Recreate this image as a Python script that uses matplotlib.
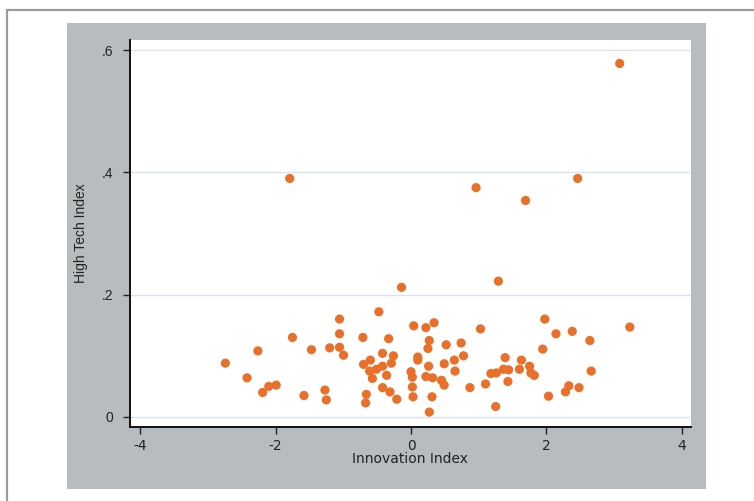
import numpy as np
import matplotlib
matplotlib.use("Agg")
import matplotlib.pyplot as plt
from matplotlib.patches import Rectangle

plt.rcParams["axes.unicode_minus"] = False

# Data
innovation = [
    3.08, 0.96, 1.69, 2.46, 1.29, -1.79, -0.14,
    -2.74, -2.26, -1.75, -2.42, -2.19, -2.10, -1.99, -1.58, -1.47,
    -1.27, -1.25, -1.20,
    -1.055, -1.055, -1.055, -0.996, -0.475, -0.71, -0.33, -0.70, -0.60,
    -0.42, -0.26, -0.29, -0.42, -0.51, -0.61, -0.36, -0.57,
    -0.42, -0.31, -0.21, -0.66, -0.67,
    0.04, 0.22, 0.34, 0.27, 0.25, 0.52, 0.10, 0.10, 0.0, 0.02,
    0.26, 0.22, 0.32, 0.45, 0.49, 0.02, 0.03, 0.31, 0.27, 0.49,
    0.74, 0.64, 0.775, 0.65, 1.026, 0.87, 1.10, 1.18, 1.26, 1.25,
    1.39, 1.365, 1.44, 1.43, 1.63, 1.60, 1.75, 1.77, 1.82, 1.945,
    1.975, 2.14, 2.03,
    2.38, 2.64, 3.23, 2.66, 2.33, 2.28, 2.48,
]
high_tech = [
    0.578, 0.375, 0.354, 0.390, 0.222, 0.390, 0.212,
    0.088, 0.108, 0.130, 0.064, 0.040, 0.050, 0.052, 0.035, 0.110,
    0.044, 0.028, 0.113,
    0.160, 0.136, 0.114, 0.101, 0.172, 0.130, 0.128, 0.086, 0.093,
    0.104, 0.100, 0.088, 0.083, 0.078, 0.075, 0.068, 0.063,
    0.048, 0.041, 0.029, 0.037, 0.023,
    0.149, 0.146, 0.154, 0.125, 0.112, 0.118, 0.098, 0.093, 0.074, 0.065,
    0.083, 0.066, 0.064, 0.060, 0.052, 0.049, 0.033, 0.033, 0.008, 0.087,
    0.121, 0.093, 0.100, 0.075, 0.144, 0.048, 0.054, 0.071, 0.072, 0.017,
    0.097, 0.078, 0.077, 0.058, 0.093, 0.078, 0.083, 0.072, 0.068, 0.111,
    0.160, 0.136, 0.034,
    0.140, 0.125, 0.147, 0.075, 0.051, 0.041, 0.048,
]

x_ticks = [-4, -2, 0, 2, 4]
y_ticks = [0, 0.2, 0.4, 0.6]
y_tick_labels = ["0", ".2", ".4", ".6"]

W, H = 754, 501
fig = plt.figure(figsize=(W / 100, H / 100), dpi=100)
fig.patch.set_facecolor("white")

# outer frame (only top and left edges visible) and gray graph region
fig.patches.append(Rectangle((7 / W, -0.1), 1.2, (H - 10) / H + 0.1,
                             transform=fig.transFigure, fill=False,
                             edgecolor="#9c9c9c", linewidth=1.6, zorder=-10))
fig.patches.append(Rectangle((67 / W, (H - 489) / H), (706 - 67) / W, (489 - 23) / H,
                             transform=fig.transFigure, facecolor="#b7bcbf",
                             edgecolor="none", zorder=-10))

ax = fig.add_axes([130 / W, (H - 427) / H, 561 / W, 387 / H])
ax.set_facecolor("white")

ax.scatter(innovation, high_tech, s=44, color="#e9702b", edgecolors="none", zorder=3)

ax.set_xlim(-4.148, 4.133)
ax.set_ylim(-0.0164, 0.6164)
ax.set_xticks(x_ticks)
ax.set_yticks(y_ticks)
ax.set_yticklabels(y_tick_labels, fontfamily="Liberation Sans")

ax.grid(axis="y", color="#dbe3ec", linewidth=1.0, zorder=1)
ax.set_axisbelow(True)

for side in ["top", "right"]:
    ax.spines[side].set_visible(False)
for side in ["left", "bottom"]:
    ax.spines[side].set_color("#111111")
    ax.spines[side].set_linewidth(1.4)

ax.tick_params(axis="y", direction="out", length=5, width=1, pad=7, labelsize=10,
               colors="#222222")
ax.tick_params(axis="x", direction="out", length=5, width=1, pad=4, labelsize=10,
               colors="#222222")

ax.set_xlabel("Innovation Index", fontsize=10, color="#222222", labelpad=-1)
ax.set_ylabel("High Tech Index", fontsize=10, color="#222222",
              fontfamily="Liberation Sans", labelpad=10)

fig.savefig("out.png", dpi=100)
